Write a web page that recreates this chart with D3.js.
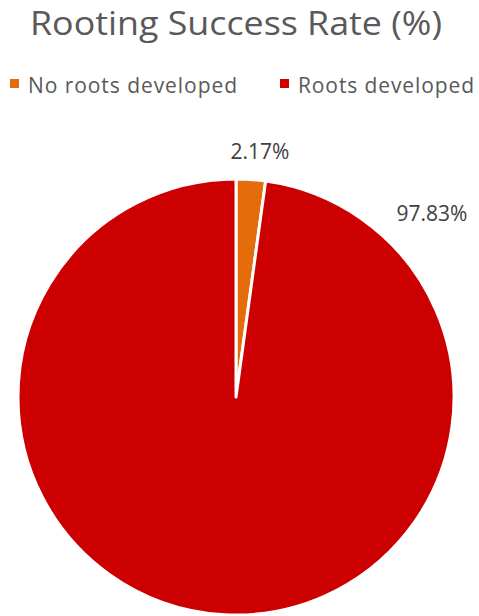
<!DOCTYPE html>
<html>
<head>
<meta charset="utf-8">
<script src="https://cdn.jsdelivr.net/npm/d3@7"></script>
<style>
  html, body { margin: 0; padding: 0; background: #ffffff; }
  svg { display: block; font-family: "Open Sans", "Noto Sans", sans-serif; }
</style>
</head>
<body>
<svg id="chart" width="479" height="616"></svg>
<script>
// Rooting outcome shares (percent)
const categories = ["No roots developed", "Roots developed"];
const values = [2.17, 97.83];
const colors = ["#E46C0A", "#CC0000"];
const title = "Rooting Success Rate (%)";

const svg = d3.select("#chart");
const W = 479, H = 616;
const cx = 236, cy = 397, radius = 218;

// Title
svg.append("text")
  .attr("x", 30).attr("y", 35)
  .attr("fill", "#595959")
  .attr("font-size", 32)
  .attr("textLength", 412)
  .attr("lengthAdjust", "spacingAndGlyphs")
  .text(title);

// Legend
const legendX = [10, 280];
const legendLen = [209, 176];
const legend = svg.append("g");
categories.forEach((c, i) => {
  legend.append("rect")
    .attr("x", legendX[i]).attr("y", 79)
    .attr("width", 9).attr("height", 9)
    .attr("fill", colors[i]);
  legend.append("text")
    .attr("x", legendX[i] + 18).attr("y", 93)
    .attr("fill", "#595959")
    .attr("font-size", 21)
    .attr("textLength", legendLen[i])
    .attr("lengthAdjust", "spacing")
    .text(c);
});

// Pie
const pie = d3.pie().sort(null).value(d => d);
const arcs = pie(values);
const arc = d3.arc().innerRadius(0).outerRadius(radius);
const g = svg.append("g").attr("transform", `translate(${cx},${cy})`);

g.selectAll("path")
  .data(arcs)
  .join("path")
  .attr("d", arc)
  .attr("fill", (d, i) => colors[i])
  .attr("stroke", "#ffffff")
  .attr("stroke-width", 3)
  .attr("stroke-linejoin", "round");

// Data labels placed outside the rim
const labelPos = [
  { dx: 24, dy: -238 },
  { dx: 196, dy: -176 }
];
arcs.forEach((d, i) => {
  g.append("text")
    .attr("x", labelPos[i].dx).attr("y", labelPos[i].dy)
    .attr("text-anchor", "middle")
    .attr("fill", "#404040")
    .attr("font-size", 21)
    .text(values[i].toFixed(2) + "%");
});
</script>
</body>
</html>
